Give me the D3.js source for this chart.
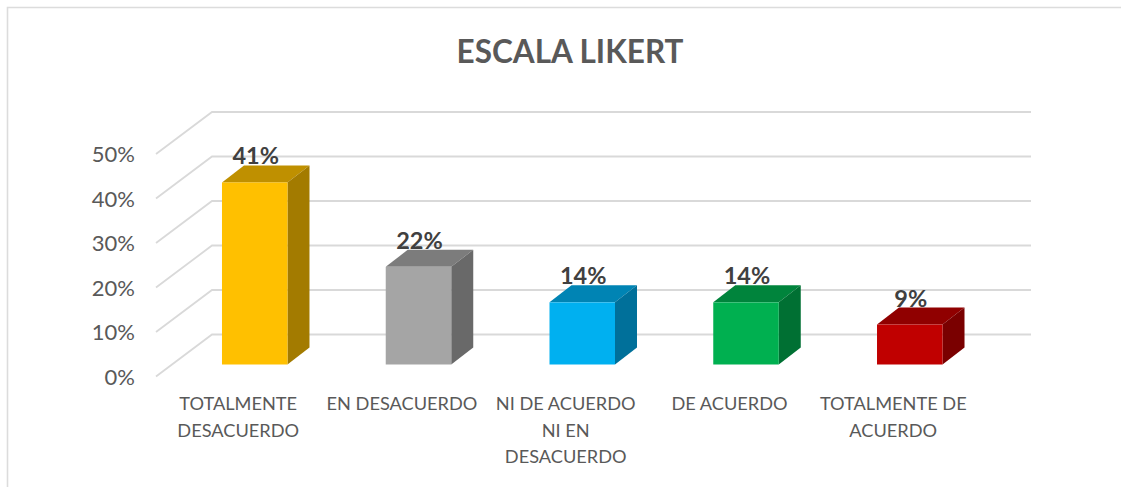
<!DOCTYPE html>
<html><head><meta charset="utf-8">
<script src="https://cdn.jsdelivr.net/npm/d3@7"></script>
<style>html,body{margin:0;padding:0;background:#fff}svg{display:block}text{font-family:Lato,Carlito,sans-serif}</style>
</head><body><svg id="c" width="1121" height="487"></svg>
<script>
const categories=[["TOTALMENTE","DESACUERDO"],["EN DESACUERDO"],["NI DE ACUERDO","NI EN","DESACUERDO"],["DE ACUERDO"],["TOTALMENTE DE","ACUERDO"]];
const values=[41,22,14,14,9];
const valueLabels=["41%","22%","14%","14%","9%"];
const ticks=[0,10,20,30,40,50];
const frontColors=["#FFC000","#A5A5A5","#00B0F0","#00B050","#C00000"];
const topColors=["#BF9000","#7C7C7C","#0084B4","#00843C","#900000"];
const sideColors=["#A37B00","#696969","#00709A","#007033","#7A0000"];
const svg=d3.select("#c");
const W=1121,H=487;
const y=d3.scaleLinear().domain([0,50]).range([376.5,154]);
const barY=d3.scaleLinear().domain([0,50]).range([364.5,142.5]);
const x=d3.scaleBand().domain(d3.range(5)).range([140.1,1024.4]).paddingInner(0.6).paddingOuter(0.5);
const depth={dx:22,dy:-17};
const wall={dx:56,dy:-42};
// frame
svg.append("path").attr("d",`M7.5 ${H} V7.5 H1121`).attr("fill","none").attr("stroke","#DCDCDC").attr("stroke-width",1.6);
// title
svg.append("text").attr("x",570).attr("y",63).attr("text-anchor","middle").attr("font-size",31.5).attr("font-weight",700).attr("fill","#595959").text("ESCALA LIKERT");
// grid
const gx0=156,gxR=1031;
const grid=svg.append("g").attr("fill","none").attr("stroke","#D9D9D9").attr("stroke-width",1.8);
ticks.forEach(t=>{const v=y(t);
 grid.append("path").attr("d",`M${gx0} ${v} L${gx0+wall.dx} ${v+wall.dy} H${gxR}`);});
// y axis labels
svg.append("g").selectAll("text").data(ticks).join("text").attr("x",135).attr("y",d=>y(d)+8)
 .attr("text-anchor","end").attr("font-size",22).attr("fill","#595959").text(d=>d+"%");
// bars
const g=svg.append("g");
values.forEach((v,i)=>{
 const a=x(i),w=x.bandwidth(),t=barY(v),b=barY(0);
 g.append("polygon").attr("points",[[a,t],[a+depth.dx,t+depth.dy],[a+w+depth.dx,t+depth.dy],[a+w,t]].join(" ")).attr("fill",topColors[i]);
 g.append("polygon").attr("points",[[a+w,t],[a+w+depth.dx,t+depth.dy],[a+w+depth.dx,b+depth.dy],[a+w,b]].join(" ")).attr("fill",sideColors[i]);
 g.append("rect").attr("x",a).attr("y",t).attr("width",w).attr("height",b-t).attr("fill",frontColors[i]);
 svg.append("text").attr("x",a+w/2+1).attr("y",t-18).attr("text-anchor","middle").attr("font-size",23.5).attr("font-weight",700).attr("fill","#404040").text(valueLabels[i]);
});
// category labels
categories.forEach((lines,i)=>{
 const t=svg.append("text").attr("text-anchor","middle").attr("font-size",18.2).attr("fill","#595959");
 lines.forEach((l,j)=>t.append("tspan").attr("x",x(i)+x.bandwidth()/2-16.5).attr("y",410+j*26.5).text(l));
});
</script></body></html>
